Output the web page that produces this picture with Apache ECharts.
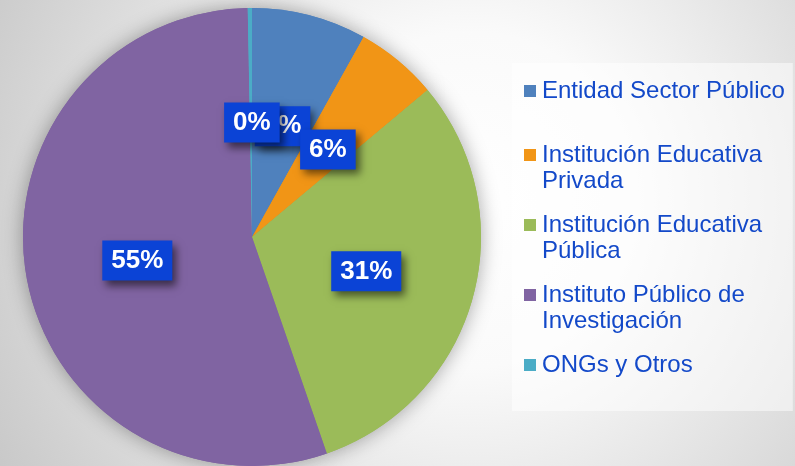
<!DOCTYPE html>
<html>
<head>
<meta charset="utf-8">
<script src="https://cdn.jsdelivr.net/npm/echarts@6/dist/echarts.min.js"></script>
<style>
  html, body { margin: 0; padding: 0; }
  #main { width: 795px; height: 466px; }
</style>
</head>
<body>
<div id="main"></div>
<script>
var categories = ['Entidad Sector Público', 'Institución Educativa Privada', 'Institución Educativa Pública', 'Instituto Público de Investigación', 'ONGs y Otros'];
var legendLabels = ['Entidad Sector Público\n', 'Institución Educativa\nPrivada', 'Institución Educativa\nPública', 'Instituto Público de\nInvestigación', 'ONGs y Otros'];
var values = [8.1, 5.8, 30.8, 55.0, 0.3];
var colors = ['#4F81BD', '#F19516', '#9BBB59', '#8064A2', '#4BACC6'];

var font = "'Liberation Sans', Arial, sans-serif";
var pieData = categories.map(function (name, i) {
    return { name: name, value: values[i], itemStyle: { color: colors[i] } };
});

// legend rich styles: colored square on the first line only
var rich = {
    g: { width: 6, height: 12 },
    ind: { width: 18, height: 26 },
    t: { fontSize: 24, lineHeight: 26, color: '#1349C9', fontFamily: font }
};
colors.forEach(function (c, i) {
    rich['sq' + i] = { width: 12, height: 12, backgroundColor: c };
});

var myChart = echarts.init(document.getElementById('main'));
var option = {
    backgroundColor: new echarts.graphic.RadialGradient(470, 200, 560, [
        { offset: 0, color: '#ffffff' },
        { offset: 0.3, color: '#fafafa' },
        { offset: 1, color: '#c6c6c6' }
    ], true),
    legend: {
        orient: 'vertical',
        left: 512,
        top: 63,
        icon: 'none',
        itemWidth: 0,
        itemHeight: 0,
        itemGap: 20,
        padding: [16, 8, 34, 7],
        backgroundColor: 'rgba(255,255,255,0.5)',
        selectedMode: false,
        data: categories,
        formatter: function (name) {
            var i = categories.indexOf(name);
            var lines = legendLabels[i].split('\n');
            var s = '{sq' + i + '|}{g|}{t|' + lines[0] + '}';
            if (lines.length > 1) {
                s += '\n{ind|}' + (lines[1] ? '{t|' + lines[1] + '}' : '');
            }
            return s;
        },
        textStyle: { rich: rich }
    },
    series: [{
        // soft shadow behind the pie
        type: 'pie',
        silent: true,
        center: [252, 237],
        radius: 229,
        startAngle: 90,
        data: pieData,
        label: { show: false },
        labelLine: { show: false },
        itemStyle: { shadowBlur: 20, shadowColor: 'rgba(0,0,0,0.35)' },
        z: 1
    }, {
        type: 'pie',
        center: [252, 237],
        radius: 229,
        startAngle: 90,
        data: pieData,
        z: 2,
        emphasis: { disabled: true },
        labelLine: { show: false },
        labelLayout: { hideOverlap: false },
        label: {
            show: true,
            position: 'inside',
            formatter: function (p) {
                return Math.round(p.percent) + '%';
            },
            offset: [1, 3],
            color: '#fff',
            fontWeight: 'bold',
            fontSize: 26,
            lineHeight: 26,
            fontFamily: font,
            backgroundColor: '#0B43D6',
            padding: [7, 9],
            shadowColor: 'rgba(0,0,0,0.55)',
            shadowBlur: 8,
            shadowOffsetX: 4,
            shadowOffsetY: 5
        }
    }]
};
myChart.setOption(option, true);
</script>
</body>
</html>
